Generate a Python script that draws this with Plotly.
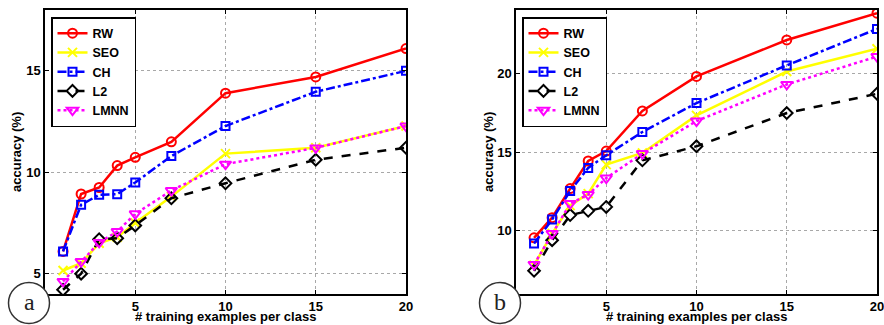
import plotly.graph_objects as go

x_vals = [1, 2, 3, 4, 5, 7, 10, 15, 20]

# Panel a
a_rw = [6.1, 8.93, 9.25, 10.33, 10.74, 11.5, 13.9, 14.7, 16.1]
a_seo = [5.16, 5.52, 6.5, 6.8, 7.5, 8.8, 10.92, 11.21, 12.28]
a_ch = [6.1, 8.4, 8.89, 8.92, 9.5, 10.8, 12.28, 13.97, 15.0]
a_l2 = [4.21, 5.0, 6.7, 6.75, 7.38, 8.72, 9.46, 10.62, 11.21]
a_lmnn = [4.62, 5.6, 6.54, 7.08, 7.95, 9.1, 10.4, 11.2, 12.28]

# Panel b
b_rw = [9.56, 10.84, 12.68, 14.43, 15.06, 17.6, 19.79, 22.1, 23.8]
b_seo = [7.83, 9.83, 11.6, 12.36, 14.2, 14.94, 17.32, 20.1, 21.54]
b_ch = [9.2, 10.72, 12.53, 13.99, 14.79, 16.27, 18.1, 20.49, 22.8]
b_l2 = [7.47, 9.41, 11.0, 11.27, 11.52, 14.47, 15.36, 17.47, 18.69]
b_lmnn = [7.87, 9.83, 11.73, 12.3, 13.35, 14.9, 16.96, 19.28, 21.05]

names = ["RW", "SEO", "CH", "L2", "LMNN"]
colors = ["#FF0000", "#FFFF00", "#0000FF", "#000000", "#FF00FF"]
dashes = ["solid", "solid", "dashdot", "dash", "dot"]
symbols = ["circle-open", "x-thin-open", "square-open", "diamond-open", "triangle-down-open"]
msizes = [9, 9, 8, 9, 10]

x_title = "# training examples per class"
y_title = "accuracy (%)"

W, H = 884, 325
fig = go.Figure()

panels = [
    ([a_rw, a_seo, a_ch, a_l2, a_lmnn], "x", "y", "legend"),
    ([b_rw, b_seo, b_ch, b_l2, b_lmnn], "x2", "y2", "legend2"),
]
for series, xa, ya, leg in panels:
    for i, ys in enumerate(series):
        fig.add_trace(go.Scatter(
            x=x_vals, y=ys, name=names[i], xaxis=xa, yaxis=ya, legend=leg,
            mode="lines+markers",
            line=dict(color=colors[i], width=2.5, dash=dashes[i]),
            marker=dict(symbol=symbols[i], size=msizes[i], color=colors[i],
                        line=dict(color=colors[i], width=2)),
        ))

tickfont = dict(family="Liberation Sans", size=13, color="#000000", weight="bold")
titlefont = dict(family="Liberation Sans", size=13, color="#000000", weight="bold")

def xaxis(domain):
    return dict(domain=domain, range=[0, 20], tickvals=[5, 10, 15, 20],
                showgrid=True, gridcolor="#a8a8a8", griddash="dot", gridwidth=1,
                showline=True, linecolor="#000000", linewidth=1.5, mirror="ticks",
                ticks="inside", ticklen=4, tickcolor="#000000",
                tickfont=tickfont, zeroline=False, automargin=False,
                ticklabeloverflow="allow")

def yaxis(domain, rng, tv, anchor):
    return dict(domain=domain, range=rng, tickvals=tv, anchor=anchor,
                showgrid=True, gridcolor="#a8a8a8", griddash="dot", gridwidth=1,
                showline=True, linecolor="#000000", linewidth=1.5, mirror="ticks",
                ticks="inside", ticklen=4, tickcolor="#000000",
                tickfont=tickfont, zeroline=False, automargin=False,
                ticklabeloverflow="allow")

legfont = dict(family="Liberation Sans", size=12.5, color="#000000", weight="bold")
ydom = [1 - 294 / H, 1 - 10 / H]
fig.update_layout(
    width=W, height=H,
    margin=dict(l=0, r=0, t=0, b=0, autoexpand=False),
    paper_bgcolor="white", plot_bgcolor="white",
    xaxis=xaxis([45 / W, 406 / W]) | dict(anchor="y"),
    yaxis=yaxis(ydom, [4, 18], [5, 10, 15], "x"),
    xaxis2=xaxis([516 / W, 877 / W]) | dict(anchor="y2"),
    yaxis2=yaxis(ydom, [6, 24], [10, 15, 20], "x2"),
    legend=dict(x=51 / W, y=1 - 17 / H, xanchor="left", yanchor="top",
                bgcolor="white", bordercolor="#000000", borderwidth=1.5,
                font=legfont, itemwidth=30, tracegroupgap=0),
    legend2=dict(x=522 / W, y=1 - 17 / H, xanchor="left", yanchor="top",
                 bgcolor="white", bordercolor="#000000", borderwidth=1.5,
                 font=legfont, itemwidth=30, tracegroupgap=0),
    showlegend=True,
)

# axis titles
for xc in [225.5, 696.5]:
    fig.add_annotation(x=xc / W, y=1 - 316.5 / H, xref="paper", yref="paper",
                       xanchor="center", yanchor="middle", showarrow=False,
                       text=x_title, font=titlefont)
for xc in [17, 489]:
    fig.add_annotation(x=xc / W, y=1 - 152 / H, xref="paper", yref="paper",
                       xanchor="center", yanchor="middle", showarrow=False,
                       textangle=-90, text=y_title, font=titlefont)

# circled panel labels
for cx, cy, lab in [(29, 303, "a"), (500, 303, "b")]:
    r = 20.5
    fig.add_shape(type="circle", xref="paper", yref="paper",
                  x0=(cx - r) / W, x1=(cx + r) / W,
                  y0=1 - (cy + r) / H, y1=1 - (cy - r) / H,
                  line=dict(color="#333333", width=1.5), fillcolor="white", layer="above")
    fig.add_annotation(x=cx / W, y=1 - (cy - 1) / H, xref="paper", yref="paper",
                       xanchor="center", yanchor="middle",
                       text=lab, showarrow=False,
                       font=dict(family="Liberation Serif", size=24, color="#222222"))

fig.write_html("out.html",
               config={"displayModeBar": False},
               post_script="document.body.style.margin='0px';document.body.style.overflow='hidden';")
